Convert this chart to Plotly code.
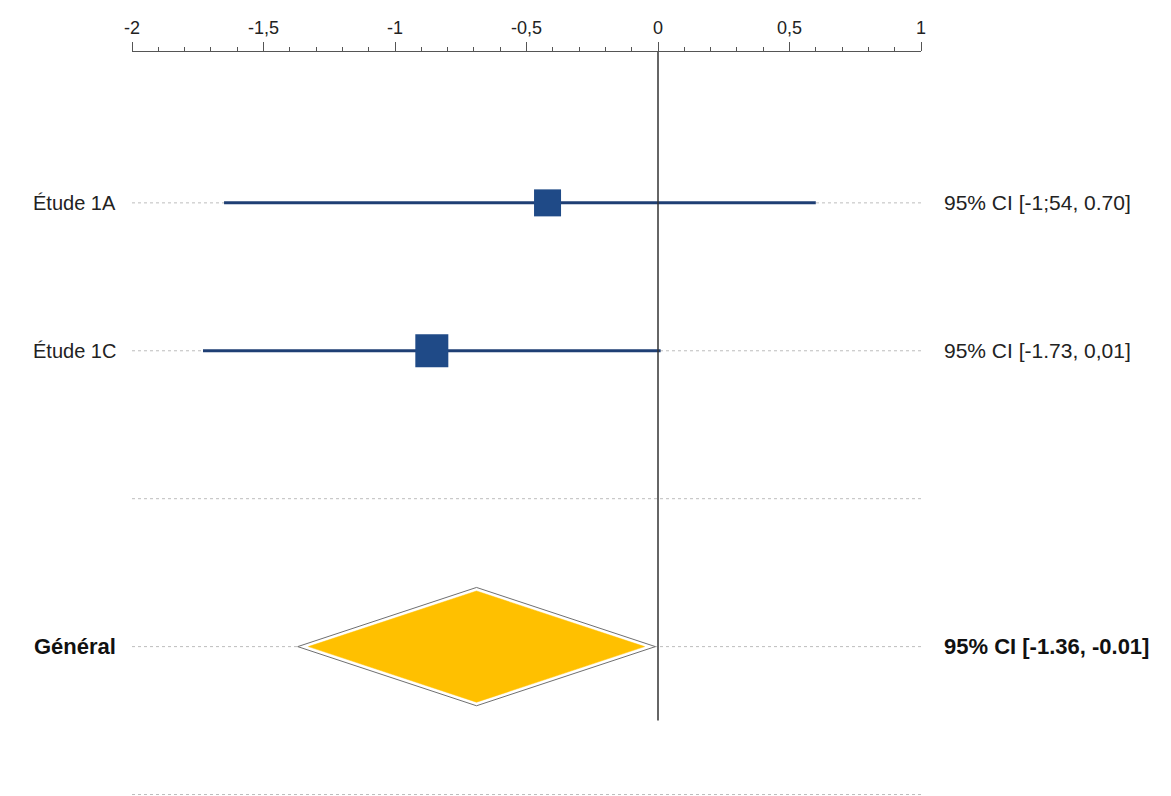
import plotly.graph_objects as go

# ---- data ----
studies = ["Étude 1A", "Étude 1C"]
study_est = [-0.42, -0.86]
study_lo = [-1.65, -1.73]
study_hi = [0.60, 0.01]
study_sizes = [27, 33]
study_ci_text = ["95% CI [-1;54, 0.70]", "95% CI [-1.73, 0,01]"]

overall_label = "Général"
overall_est = -0.69
overall_lo = -1.37
overall_hi = -0.01
overall_ci_text = "95% CI [-1.36, -0.01]"

tick_vals = [-2, -1.5, -1, -0.5, 0, 0.5, 1]
tick_text = ["-2", "-1,5", "-1", "-0,5", "0", "0,5", "1"]

rows_study = [0, 1]
row_blank = 2
row_overall = 3
row_bottom = 4

FONT = "Liberation Sans, Arial, sans-serif"
BLUE = "#1f4a87"
LINE_BLUE = "#1f3f74"
GOLD = "#FFC000"
DOT = "#bdbdbd"

fig = go.Figure()

# dotted row guide lines
for r in rows_study + [row_blank, row_overall, row_bottom]:
    fig.add_trace(go.Scatter(x=[-2, 1], y=[r, r], mode="lines",
                             line=dict(color=DOT, width=1, dash="dot"),
                             hoverinfo="skip", showlegend=False))

# reference line at 0
fig.add_shape(type="line", x0=0, x1=0, y0=-1.02, y1=row_overall + 0.5,
              xref="x", yref="y", line=dict(color="#333333", width=1.5))

# study CIs and squares
for i, name in enumerate(studies):
    r = rows_study[i]
    fig.add_trace(go.Scatter(x=[study_lo[i], study_hi[i]], y=[r, r], mode="lines",
                             line=dict(color=LINE_BLUE, width=3),
                             hoverinfo="skip", showlegend=False))
    fig.add_trace(go.Scatter(x=[study_est[i]], y=[r], mode="markers",
                             marker=dict(symbol="square", size=study_sizes[i], color=BLUE,
                                         line=dict(width=0)),
                             name=name, showlegend=False))

# overall diamond
h = 0.4
dx = [overall_lo, overall_est, overall_hi, overall_est, overall_lo]
dy = [row_overall, row_overall - h, row_overall, row_overall + h, row_overall]
fig.add_trace(go.Scatter(x=dx, y=dy, mode="lines", fill="toself", fillcolor="white",
                         line=dict(color="#707070", width=1),
                         hoverinfo="skip", showlegend=False))
k = 0.94
ix = [overall_est + k * (v - overall_est) for v in dx]
iy = [row_overall + k * (v - row_overall) for v in dy]
fig.add_trace(go.Scatter(x=ix, y=iy, mode="lines", fill="toself", fillcolor=GOLD,
                         line=dict(color=GOLD, width=0.5),
                         hoverinfo="skip", showlegend=False))

# labels
LBL = 20
CI = 21
BOLD = 22
for i, name in enumerate(studies):
    fig.add_annotation(x=-0.128, xref="paper", y=rows_study[i], yref="y", text=name,
                       showarrow=False, xanchor="left", yanchor="middle",
                       font=dict(family=FONT, size=LBL, color="#222222"))
    fig.add_annotation(x=1.027, xref="paper", y=rows_study[i], yref="y", text=study_ci_text[i],
                       showarrow=False, xanchor="left", yanchor="middle",
                       font=dict(family=FONT, size=CI, color="#222222"))
fig.add_annotation(x=-0.127, xref="paper", y=row_overall, yref="y", text="<b>" + overall_label + "</b>",
                   showarrow=False, xanchor="left", yanchor="middle",
                   font=dict(family=FONT, size=BOLD, color="#111111"))
fig.add_annotation(x=1.027, xref="paper", y=row_overall, yref="y", text="<b>" + overall_ci_text + "</b>",
                   showarrow=False, xanchor="left", yanchor="middle",
                   font=dict(family=FONT, size=BOLD, color="#111111"))

fig.update_layout(
    width=1163, height=788,
    margin=dict(l=124, r=250, t=44, b=0),
    paper_bgcolor="white", plot_bgcolor="white",
    showlegend=False,
    xaxis=dict(range=[-2, 1], side="top", showgrid=False, zeroline=False,
               showline=True, linecolor="#555555", linewidth=1,
               ticks="outside", ticklen=9, tickcolor="#555555", tickwidth=1,
               tickvals=tick_vals, ticktext=tick_text, ticklabelstandoff=1,
               tickfont=dict(family=FONT, size=18, color="#222222"),
               minor=dict(dtick=0.1, tick0=0, ticks="outside", ticklen=4,
                          tickcolor="#555555", showgrid=False)),
    yaxis=dict(range=[4.01, -1.02], visible=False, showgrid=False, zeroline=False),
)

fig.write_html("out.html")
